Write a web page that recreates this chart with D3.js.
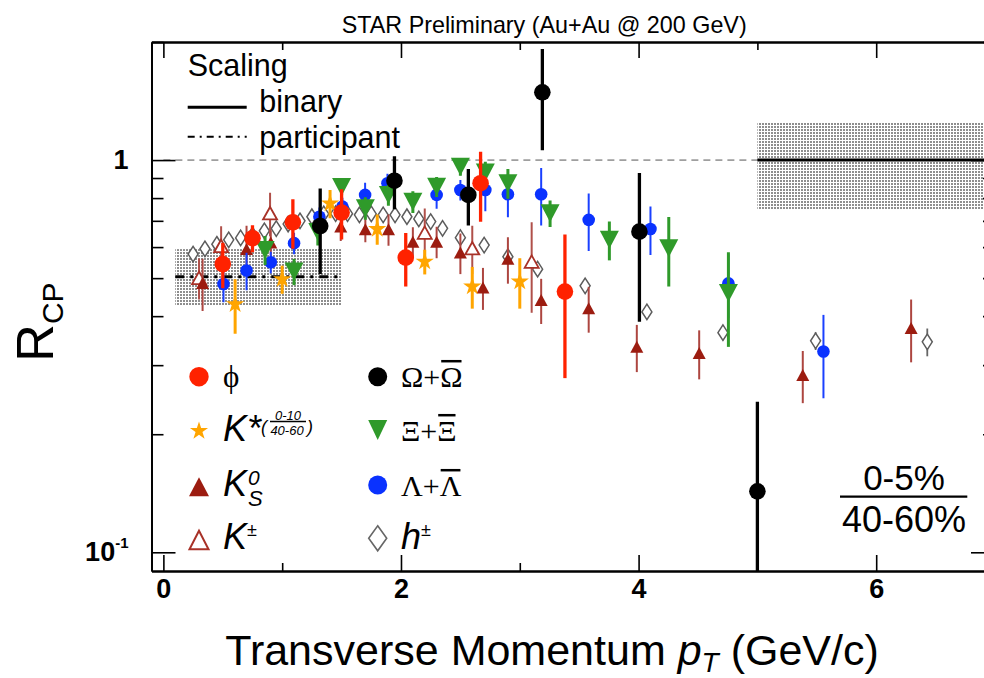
<!DOCTYPE html>
<html>
<head>
<meta charset="utf-8">
<script src="https://cdn.jsdelivr.net/npm/d3@7"></script>
<style>
  body { margin: 0; background: #fff; }
  svg { display: block; }
  text { font-family: "Liberation Sans", Arial, Helvetica, sans-serif; fill: #000; }
  .serif { font-family: "Liberation Serif", "DejaVu Serif", serif; }
</style>
</head>
<body>
<svg id="chart" width="984" height="678"></svg>
<script>
// Nuclear modification factor R_CP (0-5% / 40-60%) versus transverse momentum,
// identified hadrons in Au+Au collisions at 200 GeV.

// ---- data: pT (GeV/c), R_CP, statistical error ----
const phiPt  = [0.50, 0.75, 1.09, 1.50, 2.04, 2.67, 3.38];
const phiR   = [0.543, 0.632, 0.694, 0.735, 0.564, 0.873, 0.462];
const phiErr = [0.072, 0.050, 0.100, 0.108, 0.088, 0.177, 0.184];

const omegaPt  = [1.32, 1.945, 2.567, 3.19, 4.007, 5.00];
const omegaR   = [0.679, 0.886, 0.815, 1.489, 0.657, 0.143];
const omegaErr = [0.167, 0.137, 0.134, 0.430, 0.270, 0.099];

const xiPt  = [0.856, 1.10, 1.30, 1.50, 1.70, 1.894, 2.10, 2.30, 2.50, 2.71, 2.90, 3.255, 3.754, 4.254, 4.756];
const xiR   = [0.590, 0.520, 0.656, 0.854, 0.754, 0.815, 0.783, 0.855, 0.962, 0.930, 0.873, 0.732, 0.626, 0.596, 0.458];
const xiErr = [0.050, 0.040, 0.050, 0.040, 0.050, 0.050, 0.050, 0.050, 0.050, 0.060, 0.076, 0.057, 0.071, 0.120, 0.124];

const lambdaPt  = [0.506, 0.70, 0.904, 1.10, 1.313, 1.507, 1.698, 1.886, 2.30, 2.50, 2.71, 2.90, 3.18, 3.58, 4.10, 4.756, 5.556];
const lambdaR   = [0.483, 0.523, 0.549, 0.614, 0.717, 0.761, 0.815, 0.873, 0.815, 0.839, 0.839, 0.818, 0.818, 0.704, 0.667, 0.485, 0.325];
const lambdaErr = [0.049, 0.057, 0.035, 0.039, 0.040, 0.040, 0.060, 0.050, 0.064, 0.050, 0.099, 0.103, 0.137, 0.118, 0.094, 0.090, 0.078];

const kstarPt  = [0.604, 1.00, 1.403, 1.80, 2.20, 2.60, 3.00];
const kstarR   = [0.429, 0.497, 0.775, 0.667, 0.551, 0.476, 0.490];
const kstarErr = [0.068, 0.041, 0.064, 0.059, 0.040, 0.058, 0.072];

const k0sPt  = [0.33, 0.70, 0.904, 1.493, 1.70, 1.895, 2.10, 2.30, 2.50, 2.69, 2.90, 3.18, 3.58, 3.985, 4.51, 5.382, 6.294];
const k0sR   = [0.486, 0.593, 0.616, 0.677, 0.666, 0.666, 0.619, 0.619, 0.581, 0.473, 0.560, 0.440, 0.419, 0.334, 0.322, 0.283, 0.373];
const k0sErr = [0.074, 0.087, 0.046, 0.055, 0.049, 0.061, 0.055, 0.057, 0.069, 0.058, 0.076, 0.058, 0.056, 0.046, 0.046, 0.043, 0.068];

const kpmPt  = [0.30, 0.486, 0.898, 2.20, 2.60, 3.10];
const kpmR   = [0.501, 0.604, 0.732, 0.653, 0.596, 0.551];
const kpmErr = [0.060, 0.074, 0.093, 0.099, 0.084, 0.143];

const hPt  = [0.25, 0.35, 0.45, 0.55, 0.65, 0.75, 0.85, 0.95, 1.05, 1.15, 1.25, 1.35, 1.45, 1.55, 1.65, 1.75, 1.85, 1.95, 2.05, 2.15, 2.25, 2.35, 2.50, 2.70, 2.90, 3.15, 3.55, 4.07, 4.71, 5.49, 6.43];
const hR   = [0.576, 0.594, 0.610, 0.626, 0.633, 0.644, 0.660, 0.669, 0.687, 0.700, 0.717, 0.729, 0.730, 0.730, 0.725, 0.729, 0.725, 0.725, 0.717, 0.708, 0.697, 0.670, 0.634, 0.607, 0.567, 0.527, 0.478, 0.410, 0.363, 0.346, 0.344];
const hErr = [0.010, 0.010, 0.010, 0.010, 0.010, 0.010, 0.010, 0.010, 0.010, 0.010, 0.010, 0.010, 0.010, 0.010, 0.010, 0.010, 0.010, 0.010, 0.010, 0.010, 0.010, 0.012, 0.012, 0.012, 0.012, 0.014, 0.015, 0.016, 0.016, 0.018, 0.028];

// ---- scaling references: pT range, level, systematic band ----
const participantRange = [0.1, 1.5];
const participantLevel = 0.504;
const participantBand  = [0.427, 0.593];
const binaryRange = [5, 7];
const binaryLevel = 1;
const binaryBand  = [0.75, 1.25];

// ---- axes ----
const xDomain = [-0.1, 7];
const yDomain = [0.0896, 2];
const xMajorTicks = [0, 2, 4, 6];
const xMinorTicks = [1, 3, 5];
const yMajorTicks = [0.1, 1];
const yMinorTicks = [0.2, 0.3, 0.4, 0.5, 0.6, 0.7, 0.8, 0.9, 2];

const svg = d3.select("#chart");
const frame = { left: 151.5, right: 995, top: 42, bottom: 571 };
const x = d3.scaleLinear().domain(xDomain).range([frame.left, frame.right]);
const y = d3.scaleLog().domain(yDomain).range([frame.bottom, frame.top]);

const defs = svg.append("defs");
defs.append("clipPath").attr("id", "plotClip")
  .append("rect")
  .attr("x", frame.left).attr("y", frame.top)
  .attr("width", frame.right - frame.left).attr("height", frame.bottom - frame.top);
const pat = defs.append("pattern").attr("id", "stipple")
  .attr("patternUnits", "userSpaceOnUse").attr("width", 3).attr("height", 3);
pat.append("rect").attr("width", 3).attr("height", 3).attr("fill", "#fff");
pat.append("rect").attr("width", 2).attr("height", 2).attr("fill", "#7a7a7a");

const plot = svg.append("g").attr("clip-path", "url(#plotClip)");

// systematic bands of the scaling expectations
plot.append("rect")
  .attr("x", x(participantRange[0])).attr("width", x(participantRange[1]) - x(participantRange[0]))
  .attr("y", y(participantBand[1])).attr("height", y(participantBand[0]) - y(participantBand[1]))
  .attr("fill", "url(#stipple)").attr("opacity", 0.85);
plot.append("rect")
  .attr("x", x(binaryRange[0])).attr("width", x(binaryRange[1]) - x(binaryRange[0]))
  .attr("y", y(binaryBand[1])).attr("height", y(binaryBand[0]) - y(binaryBand[1]))
  .attr("fill", "url(#stipple)").attr("opacity", 0.85);

// unity reference
plot.append("line")
  .attr("x1", x(0)).attr("x2", x(binaryRange[0]))
  .attr("y1", y(1)).attr("y2", y(1))
  .attr("stroke", "#555").attr("stroke-width", 1).attr("stroke-dasharray", "7,5");
plot.append("line")
  .attr("x1", x(binaryRange[0])).attr("x2", x(binaryRange[1]))
  .attr("y1", y(binaryLevel)).attr("y2", y(binaryLevel))
  .attr("stroke", "#000").attr("stroke-width", 3);
plot.append("line")
  .attr("x1", x(participantRange[0])).attr("x2", x(participantRange[1]))
  .attr("y1", y(participantLevel)).attr("y2", y(participantLevel))
  .attr("stroke", "#000").attr("stroke-width", 3).attr("stroke-dasharray", "9,6,3,6");

// ---- marker shapes ----
function triUp(w, h) { return `M0,${-h/2}L${w/2},${h/2}L${-w/2},${h/2}Z`; }
function triDown(w, h) { return `M${-w/2},${-h/2}L${w/2},${-h/2}L0,${h/2}Z`; }
function diamond(w, h) { return `M0,${-h/2}L${w/2},0L0,${h/2}L${-w/2},0Z`; }
function circle(r) { return d3.symbol(d3.symbolCircle).size(Math.PI * r * r)(); }
function star(R) { return d3.symbol(d3.symbolStar).size(R * R / 0.8908130915292852)(); }

const series = [
  { pt: hPt, r: hR, err: hErr, d: diamond(10, 15.5), fill: "#fff", stroke: "#5c5c5c", sw: 1.5, bar: "#666", bw: 1.8 },
  { pt: kpmPt, r: kpmR, err: kpmErr, d: triUp(14, 12.5), fill: "#fff", stroke: "#a83228", sw: 1.8, bar: "#b0504a", bw: 2 },
  { pt: k0sPt, r: k0sR, err: k0sErr, d: triUp(13, 12), fill: "#9c1c10", stroke: "none", sw: 0, bar: "#ad4640", bw: 2 },
  { pt: lambdaPt, r: lambdaR, err: lambdaErr, d: circle(6.3), fill: "#0a32ff", stroke: "none", sw: 0, bar: "#1a40ff", bw: 2 },
  { pt: xiPt, r: xiR, err: xiErr, d: triDown(19, 18), fill: "#2f9a2a", stroke: "none", sw: 0, bar: "#2f9a2a", bw: 3 },
  { pt: kstarPt, r: kstarR, err: kstarErr, d: star(9.6), fill: "#ffa500", stroke: "none", sw: 0, bar: "#ffa500", bw: 3 },
  { pt: omegaPt, r: omegaR, err: omegaErr, d: circle(8.3), fill: "#000", stroke: "none", sw: 0, bar: "#000", bw: 3.3 },
  { pt: phiPt, r: phiR, err: phiErr, d: circle(8.3), fill: "#ff2200", stroke: "none", sw: 0, bar: "#ff2200", bw: 3.3 }
];

series.forEach(s => {
  const pts = s.pt.map((p, i) => ({ p, v: s.r[i], e: s.err[i] }));
  const g = plot.append("g");
  g.selectAll("line.err").data(pts).join("line")
    .attr("x1", d => x(d.p)).attr("x2", d => x(d.p))
    .attr("y1", d => y(Math.max(d.v - d.e, 0.01)))
    .attr("y2", d => y(d.v + d.e))
    .attr("stroke", s.bar).attr("stroke-width", s.bw);
  g.selectAll("path.mk").data(pts).join("path")
    .attr("transform", d => `translate(${x(d.p)},${y(d.v)})`)
    .attr("d", s.d)
    .attr("fill", s.fill).attr("stroke", s.stroke).attr("stroke-width", s.sw);
});

// ---- frame and axes ----
const axisStyle = g => {
  g.selectAll(".domain").attr("stroke", "#000").attr("stroke-width", 1.8);
  g.selectAll(".tick line").attr("stroke", "#000").attr("stroke-width", 1.6);
};

svg.append("g").attr("transform", `translate(0,${frame.bottom})`)
  .call(d3.axisBottom(x).tickValues(xMinorTicks).tickSizeInner(-8).tickSizeOuter(0).tickFormat(""))
  .call(axisStyle);
const xAxis = svg.append("g").attr("transform", `translate(0,${frame.bottom})`)
  .call(d3.axisBottom(x).tickValues(xMajorTicks).tickSizeInner(-16).tickSizeOuter(0).tickPadding(8).tickFormat(d3.format("d")))
  .call(axisStyle);
xAxis.selectAll(".tick text").attr("font-size", 27).attr("font-weight", "bold")
  .attr("font-family", "'Liberation Sans', Arial, sans-serif").attr("fill", "#000");

svg.append("g").attr("transform", `translate(0,${frame.top})`)
  .call(d3.axisTop(x).tickValues(xMinorTicks).tickSizeInner(-8).tickSizeOuter(0).tickFormat(""))
  .call(axisStyle);
svg.append("g").attr("transform", `translate(0,${frame.top})`)
  .call(d3.axisTop(x).tickValues(xMajorTicks).tickSizeInner(-16).tickSizeOuter(0).tickFormat(""))
  .call(axisStyle);

svg.append("g").attr("transform", `translate(${frame.left},0)`)
  .call(d3.axisLeft(y).tickValues(yMinorTicks).tickSizeInner(-12).tickSizeOuter(0).tickFormat(""))
  .call(axisStyle);
const yAxis = svg.append("g").attr("transform", `translate(${frame.left},0)`)
  .call(d3.axisLeft(y).tickValues(yMajorTicks).tickSizeInner(-24).tickSizeOuter(0).tickPadding(23).tickFormat(d => d === 1 ? "1" : "10"))
  .call(axisStyle);
yAxis.selectAll(".tick text").attr("font-size", 27).attr("font-weight", "bold")
  .attr("font-family", "'Liberation Sans', Arial, sans-serif").attr("fill", "#000")
  .each(function(d) {
    if (d !== 1) {
      d3.select(this).append("tspan").attr("font-size", 15).attr("dy", "-0.9em").text("-1");
    }
  });

svg.append("g").attr("transform", `translate(${frame.right},0)`)
  .call(d3.axisRight(y).tickValues(yMinorTicks).tickSizeInner(-12).tickSizeOuter(0).tickFormat(""))
  .call(axisStyle);
svg.append("g").attr("transform", `translate(${frame.right},0)`)
  .call(d3.axisRight(y).tickValues(yMajorTicks).tickSizeInner(-24).tickSizeOuter(0).tickFormat(""))
  .call(axisStyle);

// ---- titles ----
svg.append("text").attr("x", 341.7).attr("y", 33).attr("font-size", 24)
  .attr("textLength", 405).attr("lengthAdjust", "spacingAndGlyphs")
  .text("STAR Preliminary (Au+Au @ 200 GeV)");

const xt = svg.append("text").attr("x", 552).attr("y", 665).attr("font-size", 43).attr("text-anchor", "middle");
xt.append("tspan").text("Transverse Momentum ");
xt.append("tspan").attr("font-style", "italic").text("p");
xt.append("tspan").attr("font-style", "italic").attr("font-size", 28).attr("dy", 7).text("T");
xt.append("tspan").attr("dy", -7).text(" (GeV/c)");

const yt = svg.append("text").attr("transform", "translate(53,322) rotate(-90)")
  .attr("text-anchor", "middle").attr("font-size", 52);
yt.append("tspan").text("R");
yt.append("tspan").attr("font-size", 30).attr("dy", 10).text("CP");

// ---- scaling legend ----
svg.append("text").attr("x", 187.7).attr("y", 76).attr("font-size", 30.5).text("Scaling");
svg.append("line").attr("x1", 187.7).attr("x2", 246.7).attr("y1", 107.3).attr("y2", 107.3)
  .attr("stroke", "#000").attr("stroke-width", 3);
svg.append("text").attr("x", 259.3).attr("y", 111.7).attr("font-size", 30.5).text("binary");
svg.append("line").attr("x1", 187.7).attr("x2", 246.7).attr("y1", 136.7).attr("y2", 136.7)
  .attr("stroke", "#000").attr("stroke-width", 2).attr("stroke-dasharray", "7,5,2,5");
svg.append("text").attr("x", 259.3).attr("y", 147.7).attr("font-size", 30.5).text("participant");

// ---- species legend ----
const leg = svg.append("g");
const mk = (dpath, cx, cy, fill, stroke, sw) => leg.append("path")
  .attr("transform", `translate(${cx},${cy})`).attr("d", dpath)
  .attr("fill", fill).attr("stroke", stroke || "none").attr("stroke-width", sw || 0);

mk(circle(9.7), 199, 376.7, "#ff2200");
leg.append("text").attr("class", "serif").attr("x", 223).attr("y", 387).attr("font-size", 31).text("\u03D5");

mk(star(9.5), 199, 431, "#ffa500");
leg.append("text").attr("x", 223).attr("y", 440.5).attr("font-size", 36).attr("font-style", "italic").text("K*");
const frac = leg.append("text").attr("font-style", "italic");
frac.append("tspan").attr("x", 261).attr("y", 433).attr("font-size", 18).text("(");
frac.append("tspan").attr("x", 288).attr("y", 419.5).attr("font-size", 13).attr("text-anchor", "middle").text("0-10");
frac.append("tspan").attr("x", 287).attr("y", 434.5).attr("font-size", 13).attr("text-anchor", "middle").text("40-60");
frac.append("tspan").attr("x", 307).attr("y", 433).attr("font-size", 18).text(")");
leg.append("line").attr("x1", 270).attr("x2", 306).attr("y1", 421.5).attr("y2", 421.5).attr("stroke", "#000").attr("stroke-width", 1.3);

mk(triUp(20, 19), 199, 486.7, "#9c1c10");
const k0 = leg.append("text").attr("font-style", "italic");
k0.append("tspan").attr("x", 223).attr("y", 495.7).attr("font-size", 36).text("K");
k0.append("tspan").attr("x", 248).attr("y", 485).attr("font-size", 21).text("0");
k0.append("tspan").attr("x", 248).attr("y", 505.5).attr("font-size", 22).text("S");

mk(triUp(19, 18.5), 199, 540, "#fff", "#a83228", 2);
const kpm = leg.append("text").attr("x", 223).attr("y", 549).attr("font-size", 36);
kpm.append("tspan").attr("font-style", "italic").text("K");
kpm.append("tspan").attr("font-size", 18).attr("dy", -13).text("\u00B1");

// Greek species names with an overline on the antiparticle
function greek(label, baseline) {
  const t = leg.append("text").attr("class", "serif").attr("x", 401).attr("y", baseline).attr("font-size", 30);
  t.text(label + "+" + label);
  const ext = t.node().getExtentOfChar(2);
  leg.append("line")
    .attr("x1", ext.x + 1).attr("x2", ext.x + ext.width - 1)
    .attr("y1", ext.y + 1.5).attr("y2", ext.y + 1.5)
    .attr("stroke", "#000").attr("stroke-width", 2.5);
}
mk(circle(9.5), 377.7, 376.7, "#000");
greek("\u03A9", 386.7);
mk(triDown(19, 20), 377.7, 430, "#2f9a2a");
greek("\u039E", 440.7);
mk(circle(9.5), 377.7, 485, "#0a32ff");
greek("\u039B", 495.7);
mk(diamond(18, 25), 377.7, 538.3, "#fff", "#666", 1.6);
const hpm = leg.append("text").attr("x", 401).attr("y", 549).attr("font-size", 36);
hpm.append("tspan").attr("font-style", "italic").text("h");
hpm.append("tspan").attr("font-size", 18).attr("dy", -13).text("\u00B1");

// centrality ratio
svg.append("text").attr("x", 904).attr("y", 490).attr("font-size", 35).attr("text-anchor", "middle").text("0-5%");
svg.append("line").attr("x1", 840).attr("x2", 967.3).attr("y1", 496.7).attr("y2", 496.7)
  .attr("stroke", "#000").attr("stroke-width", 2.3);
svg.append("text").attr("x", 904).attr("y", 531.7).attr("font-size", 36).attr("text-anchor", "middle").text("40-60%");
</script>
</body>
</html>
